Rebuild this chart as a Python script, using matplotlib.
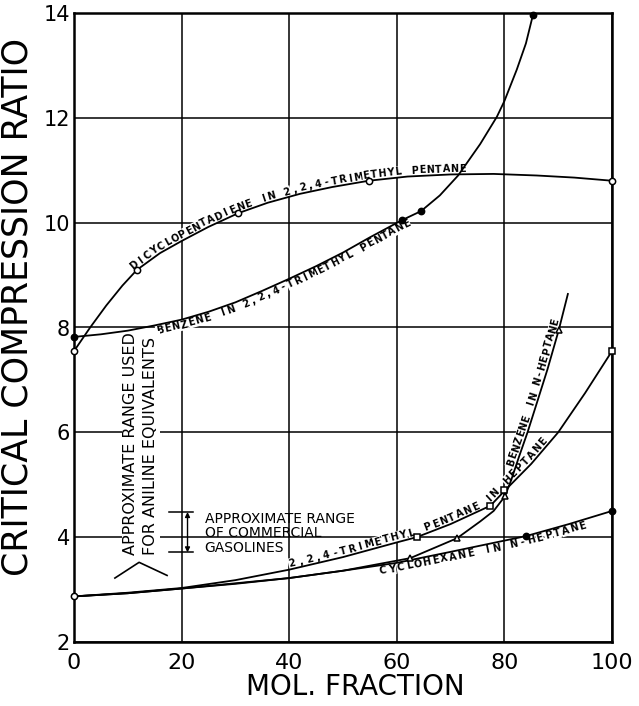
import numpy as np
import matplotlib.pyplot as plt

dcpd_x = [0, 11.7, 30.5, 54.8, 100]
dcpd_y = [7.55, 9.1, 10.18, 10.8, 10.8]
benz_tmp_x = [0, 61.0, 64.5, 85.3]
benz_tmp_y = [7.82, 10.05, 10.22, 13.96]
tmp_hep_x = [63.7, 77.4, 79.9, 100]
tmp_hep_y = [4.0, 4.6, 4.9, 7.55]
benz_hep_x = [62.5, 71.2, 80.1, 90.1]
benz_hep_y = [3.6, 3.98, 4.78, 7.95]
cyclo_x = [84, 100]
cyclo_y = [4.02, 4.5]
heptane_x = [0]
heptane_y = [2.87]

# curves
dcpd_cx = [0, 3, 6, 9, 11.7, 16, 20, 25, 30.5, 36, 42, 48, 54.8, 62, 70, 78, 86, 93, 100]
dcpd_cy = [7.55, 8.0, 8.42, 8.8, 9.1, 9.42, 9.65, 9.92, 10.18, 10.38, 10.55, 10.68,
           10.8, 10.88, 10.92, 10.93, 10.9, 10.86, 10.8]
benz_tmp_cx = [0, 5, 10, 15, 20, 25, 30, 35, 40, 45, 50, 55, 61, 64.5, 68, 71.4,
               75.5, 78.6, 80, 82.3, 84, 85.3]
benz_tmp_cy = [7.82, 7.87, 7.94, 8.04, 8.15, 8.3, 8.48, 8.7, 8.93, 9.17, 9.43, 9.72,
               10.05, 10.22, 10.52, 10.9, 11.5, 12.02, 12.32, 12.92, 13.42, 13.96]
tmp_hep_cx = [0, 10, 20, 30, 40, 50, 60, 63.7, 70, 77.4, 80, 85, 90, 95, 100]
tmp_hep_cy = [2.87, 2.94, 3.03, 3.18, 3.38, 3.62, 3.9, 4.0, 4.25, 4.6, 4.88, 5.4,
              6.0, 6.75, 7.55]
benz_hep_cx = [0, 10, 20, 30, 40, 50, 62.5, 71.2, 75.5, 78, 80.1, 81.3, 82.6, 84.3,
               86, 88, 90.1, 91.8]
benz_hep_cy = [2.87, 2.93, 3.02, 3.11, 3.22, 3.36, 3.6, 3.98, 4.3, 4.5, 4.78, 5.1,
               5.5, 6.0, 6.55, 7.2, 7.95, 8.64]
cyclo_cx = [0, 10, 20, 30, 40, 50, 60, 70, 84, 92, 100]
cyclo_cy = [2.87, 2.93, 3.02, 3.12, 3.22, 3.36, 3.51, 3.72, 4.02, 4.25, 4.5]

# annotation marks
chevron_x = [7.6, 12.1, 17.3]
chevron_y = [3.22, 3.52, 3.27]
gas_range = [3.71, 4.48]
gas_x = 21.1

fig = plt.figure(figsize=(6.39, 7.06), dpi=100)
ax = fig.add_axes([74 / 639, 1 - 642 / 706, 538 / 639, 629 / 706])
ax.set_xlim(0, 100)
ax.set_ylim(2, 14)
ax.set_xticks(range(0, 101, 20))
ax.set_yticks(range(2, 15, 2))
ax.grid(True, color='black', linewidth=1.1)
ax.set_axisbelow(True)
for sp in ax.spines.values():
    sp.set_linewidth(1.8)
ax.tick_params(length=0)
ax.tick_params(axis='x', pad=8, labelsize=16)
ax.tick_params(axis='y', pad=3, labelsize=15)

line_kw = dict(color='black', linewidth=1.3, zorder=4, clip_on=False)
ax.plot(dcpd_cx, dcpd_cy, **line_kw)
ax.plot(benz_tmp_cx, benz_tmp_cy, **line_kw)
ax.plot(tmp_hep_cx, tmp_hep_cy, **line_kw)
ax.plot(benz_hep_cx, benz_hep_cy, **line_kw)
ax.plot(cyclo_cx, cyclo_cy, **line_kw)

mk = dict(linestyle='none', color='black', markersize=4.5, markeredgewidth=1.1,
          zorder=5, clip_on=False)
ax.plot(dcpd_x, dcpd_y, marker='o', markerfacecolor='white', **mk)
ax.plot(benz_tmp_x, benz_tmp_y, marker='o', **mk)
ax.plot(tmp_hep_x, tmp_hep_y, marker='s', markerfacecolor='white', **mk)
ax.plot(benz_hep_x, benz_hep_y, marker='^', markerfacecolor='white', **mk)
ax.plot(cyclo_x, cyclo_y, marker='o', **mk)
ax.plot(heptane_x, heptane_y, marker='o', markerfacecolor='white', **mk)


def label_along(cx, cy, text, x0, x1, offset, size=7):
    # place letters one by one along a traced curve (offset in pixels)
    pts = ax.transData.transform(np.column_stack([cx, cy]))
    s = np.concatenate([[0], np.cumsum(np.hypot(*np.diff(pts, axis=0).T))])
    s0 = np.interp(x0, cx, s)
    s1 = np.interp(x1, cx, s)
    inv = ax.transData.inverted()
    n = len(text)
    for i, ch in enumerate(text):
        if ch == ' ':
            continue
        si = s0 + (s1 - s0) * (i + 0.5) / n
        p = np.array([np.interp(si, s, pts[:, 0]), np.interp(si, s, pts[:, 1])])
        a = np.array([np.interp(si - 6, s, pts[:, 0]), np.interp(si - 6, s, pts[:, 1])])
        b = np.array([np.interp(si + 6, s, pts[:, 0]), np.interp(si + 6, s, pts[:, 1])])
        d = (b - a) / np.hypot(*(b - a))
        q = inv.transform(p + offset * np.array([-d[1], d[0]]))
        ax.text(q[0], q[1], ch, rotation=np.degrees(np.arctan2(d[1], d[0])),
                rotation_mode='anchor', ha='center', va='center', fontsize=size,
                fontweight='bold', zorder=3,
                bbox=dict(facecolor='white', edgecolor='none', pad=0.4))


label_along(dcpd_cx, dcpd_cy, "DICYCLOPENTADIENE IN 2,2,4-TRIMETHYL PENTANE", 11.3, 73, 5.5)
label_along(benz_tmp_cx, benz_tmp_cy, "BENZENE IN 2,2,4-TRIMETHYL PENTANE", 15, 62, -5.5)
label_along(tmp_hep_cx, tmp_hep_cy, "2,2,4-TRIMETHYL PENTANE IN HEPTANE", 40, 88.5, 5.5)
label_along(benz_hep_cx, benz_hep_cy, "BENZENE IN N-HEPTANE", 82, 90.6, 5.5)
label_along(cyclo_cx, cyclo_cy, "CYCLOHEXANE IN N-HEPTANE", 56.5, 95, -5.5)

# aniline-equivalent range note with its bracket
ax.text(12.4, 3.66, "APPROXIMATE RANGE USED\nFOR ANILINE EQUIVALENTS", rotation=90,
        ha='center', va='bottom', fontsize=11.5, linespacing=1.4, zorder=3,
        multialignment='left',
        bbox=dict(facecolor='white', edgecolor='none', pad=1))
ax.plot(chevron_x, chevron_y, color='black', linewidth=1.2, zorder=4)

# commercial gasoline range
ax.annotate('', xy=(gas_x, gas_range[1]), xytext=(gas_x, gas_range[0]),
            arrowprops=dict(arrowstyle='<|-|>', color='black', lw=1.0,
                            mutation_scale=7, shrinkA=0, shrinkB=0), zorder=4)
for yv in gas_range:
    ax.plot([17.6, 22.2], [yv, yv], color='black', linewidth=1.1, zorder=4)
ax.text(24.3, 4.07, "APPROXIMATE RANGE\nOF COMMERCIAL\nGASOLINES", ha='left',
        va='center', fontsize=10, linespacing=1.05, zorder=3)

fig.text(18 / 639, 1 - 307 / 706, "CRITICAL COMPRESSION RATIO", rotation=90,
         ha='center', va='center', fontsize=25)
fig.text(355 / 639, 1 - 687 / 706, "MOL. FRACTION", ha='center', va='center',
         fontsize=20)

fig.savefig("out.png", dpi=100)
